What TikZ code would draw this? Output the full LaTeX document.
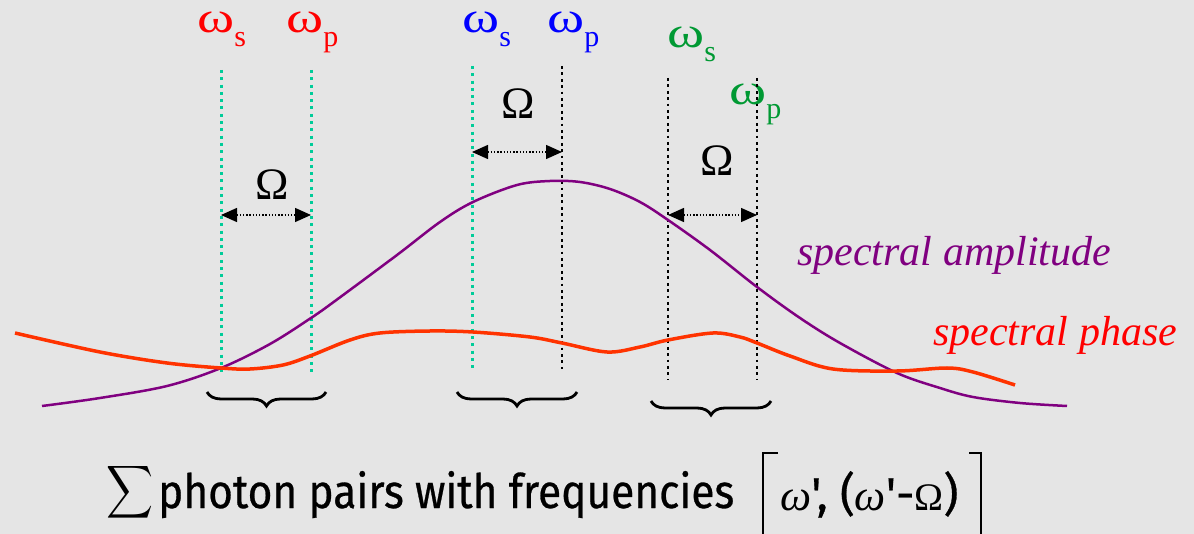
\documentclass[tikz,border=0pt]{standalone}
\usepackage{fontspec}
\setmainfont{Liberation Serif}
\newfontfamily\comicfont[FakeBold=0.6]{Fira Sans}
\usetikzlibrary{arrows.meta,decorations.pathreplacing}
\definecolor{bgc}{RGB}{229,229,229}
\definecolor{tealc}{RGB}{0,204,153}
\definecolor{purpc}{RGB}{128,0,128}
\definecolor{phasec}{RGB}{255,51,0}
\definecolor{grnc}{RGB}{0,153,51}
\newcommand\wsubx[1]{\scalebox{1.28}[1]{ω}\raisebox{-14pt}{\fontsize{30}{30}\selectfont #1}}
\newcommand\fsz[1]{\fontsize{#1}{#1}\selectfont}
\begin{document}
\begin{tikzpicture}[x=1pt,y=-1pt,
  wlab/.style={anchor=base west,inner sep=0pt,font=\fontsize{44}{44}\selectfont},
  omlab/.style={inner sep=0pt,font=\fontsize{45}{45}\selectfont},
  tealline/.style={tealc,line width=3pt,dash pattern=on 3pt off 4.3pt},
  blackline/.style={black,line width=2.8pt,dash pattern=on 2.8pt off 3.6pt},
  darrow/.style={black,line width=1.4pt,dash pattern=on 1.4pt off 1.8pt,
     {Triangle[length=16pt,width=14pt]}-{Triangle[length=16pt,width=14pt]}},
  bracebox/.style={black,line width=2.8pt,decorate,decoration={brace,mirror,amplitude=14pt}},
  labit/.style={anchor=base west,inner sep=0pt,font=\fontsize{42}{42}\selectfont\itshape}
]
\fill[bgc] (0,0) rectangle (1194,534);
\useasboundingbox (0,0) rectangle (1194,534);

% frequency labels
\node[wlab,text=red] (rs) at (197,33) {\wsubx{s}};
\node[wlab,text=red] (rp) at (286,33) {\wsubx{p}};
\node[wlab,text=blue] (bs) at (462,33) {\wsubx{s}};
\node[wlab,text=blue] (bp) at (547,33) {\wsubx{p}};
\node[wlab,text=grnc] (gs) at (667,48) {\wsubx{s}};
\node[wlab,text=grnc] (gp) at (729,105) {\wsubx{p}};

% vertical marker lines
\coordinate (l1t) at (221,70);  \coordinate (l1b) at (221,373);
\coordinate (l2t) at (311,70);  \coordinate (l2b) at (311,373);
\coordinate (l3t) at (472,66);  \coordinate (l3b) at (472,369);
\coordinate (l4t) at (562,66);  \coordinate (l4b) at (562,369);
\coordinate (l5t) at (668,78);  \coordinate (l5b) at (668,380);
\coordinate (l6t) at (757,78);  \coordinate (l6b) at (757,380);
\draw[tealline] (l1t) -- (l1b);
\draw[tealline] (l2t) -- (l2b);
\draw[tealline] (l3t) -- (l3b);
\draw[blackline] (l4t) -- (l4b);
\draw[blackline] (l5t) -- (l5b);
\draw[blackline] (l6t) -- (l6b);

% Omega separations
\coordinate (a1l) at (221,215); \coordinate (a1r) at (311,215);
\coordinate (a2l) at (472,152); \coordinate (a2r) at (562,152);
\coordinate (a3l) at (668,215); \coordinate (a3r) at (757,215);
\draw[darrow] (a1l) -- (a1r);
\draw[darrow] (a2l) -- (a2r);
\draw[darrow] (a3l) -- (a3r);
\node[omlab] (o1) at (272,185) {Ω};
\node[omlab] (o2) at (518,104) {Ω};
\node[omlab] (o3) at (717,161) {Ω};

% spectral amplitude
\draw[purpc,line width=2.5pt] plot[smooth,tension=0.55] coordinates {
 (42,406) (100,398) (167,386) (221,368) (270,344) (311,318) (335,301) (397,255)
 (440,222) (473,202) (517,185) (550,181) (580,182) (610,189) (640,202) (668,220)
 (710,250) (757,287) (800,318) (840,343) (897,373) (940,388) (973,397) (1020,403) (1067,406)};
% spectral phase
\draw[phasec,line width=3.5pt] plot[smooth,tension=0.55] coordinates {
 (15,333) (100,352) (167,363) (221,368) (250,369) (283,365) (310,356) (350,340)
 (380,333) (430,331) (473,332) (530,337) (562,343) (607,352) (640,347) (668,340)
 (713,333) (740,337) (757,343) (790,356) (833,369) (897,371) (947,368) (973,372) (1015,385)};

\node[labit,text=purpc] (amp) at (797,266) {spectral amplitude};
\node[labit,text=red] (pha) at (933,346) {spectral phase};

% braces
\coordinate (b1l) at (207,392); \coordinate (b1r) at (326,392);
\coordinate (b2l) at (457,392); \coordinate (b2r) at (577,392);
\coordinate (b3l) at (651,401); \coordinate (b3r) at (771,401);
\draw[bracebox] (b1l) -- (b1r);
\draw[bracebox] (b2l) -- (b2r);
\draw[bracebox] (b3l) -- (b3r);

% bottom formula
\node[inner sep=0pt] (sig) at (130.5,492.5) {\resizebox*{47pt}{59pt}{$\displaystyle\sum$}};
\node[anchor=base west,inner sep=0pt] (txt) at (158,508)
  {\resizebox{576pt}{37pt}{\comicfont photon pairs with frequencies}};
\node[anchor=base west,inner sep=0pt] (frm) at (780,510)
  {{\fsz{44}\itshape ω}{\fsz{46}\comicfont ', (}{\fsz{44}\itshape ω}{\fsz{46}\comicfont '-}{\fsz{39}Ω}{\fsz{46}\comicfont )}};
\coordinate (lbt) at (778,453); \coordinate (lbc) at (763,453); \coordinate (lbb) at (763,540);
\coordinate (rbt) at (969,453); \coordinate (rbc) at (981,453); \coordinate (rbb) at (981,540);
\draw[line width=2pt] (lbt) -- (lbc) -- (lbb);
\draw[line width=2pt] (rbt) -- (rbc) -- (rbb);
\end{tikzpicture}
\end{document}
